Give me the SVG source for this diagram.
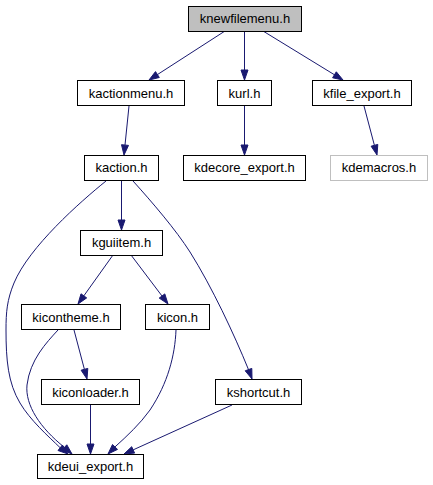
<svg xmlns="http://www.w3.org/2000/svg" width="433" height="485" viewBox="0 0 433 485">
<style>
.box{fill:#ffffff;stroke:#000000;stroke-width:1}
.root{fill:#bfbfbf;stroke:#000000;stroke-width:1}
.ext{fill:#ffffff;stroke:#bfbfbf;stroke-width:1}
text{font-family:"Liberation Sans",Arial,sans-serif;font-size:13px;text-anchor:middle;fill:#000000}
.edge path,.edge line{fill:none;stroke:#191970;stroke-width:1}
.edge polygon{fill:#191970;stroke:#191970;stroke-width:1}
</style>
<rect width="433" height="485" fill="#ffffff"/>
<g id="connectors" class="edge">
<line x1="225" y1="31" x2="157.4" y2="74.6"/>
<polygon points="159.3,77.5 155.5,71.6 149,80"/>
<line x1="244.5" y1="31" x2="244.5" y2="70"/>
<polygon points="248,70 241,70 244.5,80"/>
<line x1="263" y1="31" x2="334.5" y2="74.8"/>
<polygon points="332.6,77.8 336.3,71.8 343,80"/>
<line x1="129" y1="106" x2="125" y2="145"/>
<polygon points="128.5,145.4 121.5,144.7 124,155"/>
<line x1="244.5" y1="106" x2="244.5" y2="145"/>
<polygon points="248,145 241,145 244.5,155"/>
<line x1="364" y1="106" x2="374.4" y2="145.3"/>
<polygon points="371.1,146.2 377.8,144.4 377,155"/>
<line x1="121.5" y1="180" x2="121.5" y2="220"/>
<polygon points="125,220 118,220 121.5,230"/>
<line x1="113" y1="255" x2="83.8" y2="295.9"/>
<polygon points="86.7,297.9 81,293.8 78,304"/>
<line x1="131" y1="255" x2="162" y2="296"/>
<polygon points="159.2,298.1 164.8,293.9 168,304"/>
<line x1="74" y1="330" x2="84.4" y2="369.3"/>
<polygon points="81.1,370.2 87.8,368.4 87,379"/>
<line x1="90.5" y1="405" x2="90.5" y2="444"/>
<polygon points="94,444 87,444 90.5,454"/>
<path d="M106,181 C80,202 29,247 14,283 C7,300 6,312 6,330 C6,360 8,383 20,403 C30,420 48,436 60.2,447.75"/>
<polygon points="58,450.5 62.4,445 68,454"/>
<path d="M58,330 C46,343 30,360 27,385 C25,405 40,428 64.5,447.4"/>
<polygon points="62.2,450 66.8,444.8 72,454"/>
<path d="M176,330 C175,355 168,383 150,410 C140,424 127,436 115,446.9"/>
<polygon points="117.5,449.4 112.5,444.5 108,454"/>
<line x1="232" y1="405" x2="133.1" y2="449.9"/>
<polygon points="134.6,453.1 131.7,446.7 124,454"/>
<path d="M133,181 C152,202 176,230 190,252 C212,287 234,334 248.5,369.6"/>
<polygon points="245.2,370.8 251.8,368.4 252,379"/>
</g>
<g id="knewfilemenu"><rect class="root" x="188.5" y="6.5" width="113" height="25"/><text x="245" y="23">knewfilemenu.h</text></g>
<g id="kactionmenu"><rect class="box" x="77.5" y="80.5" width="107" height="25"/><text x="131" y="97.5">kactionmenu.h</text></g>
<g id="kurl"><rect class="box" x="217.5" y="80.5" width="54" height="25"/><text x="244.5" y="97.5">kurl.h</text></g>
<g id="kfile_export"><rect class="box" x="312.5" y="80.5" width="99" height="25"/><text x="362" y="97.5">kfile_export.h</text></g>
<g id="kaction"><rect class="box" x="84.5" y="155.5" width="74" height="25"/><text x="121.5" y="172">kaction.h</text></g>
<g id="kdecore_export"><rect class="box" x="183.5" y="155.5" width="122" height="25"/><text x="244.5" y="172">kdecore_export.h</text></g>
<g id="kdemacros"><rect class="ext" x="330.5" y="155.5" width="97" height="25"/><text x="379" y="172">kdemacros.h</text></g>
<g id="kguiitem"><rect class="box" x="80.5" y="230.5" width="82" height="25"/><text x="121.5" y="247">kguiitem.h</text></g>
<g id="kicontheme"><rect class="box" x="21.5" y="304.5" width="99" height="25"/><text x="71" y="321.5">kicontheme.h</text></g>
<g id="kicon"><rect class="box" x="145.5" y="304.5" width="64" height="25"/><text x="177.5" y="321.5">kicon.h</text></g>
<g id="kiconloader"><rect class="box" x="41.5" y="379.5" width="98" height="25"/><text x="90.5" y="396.5">kiconloader.h</text></g>
<g id="kshortcut"><rect class="box" x="215.5" y="379.5" width="86" height="25"/><text x="258.5" y="396.5">kshortcut.h</text></g>
<g id="kdeui_export"><rect class="box" x="37.5" y="454.5" width="106" height="24"/><text x="90.5" y="471">kdeui_export.h</text></g>
</svg>
